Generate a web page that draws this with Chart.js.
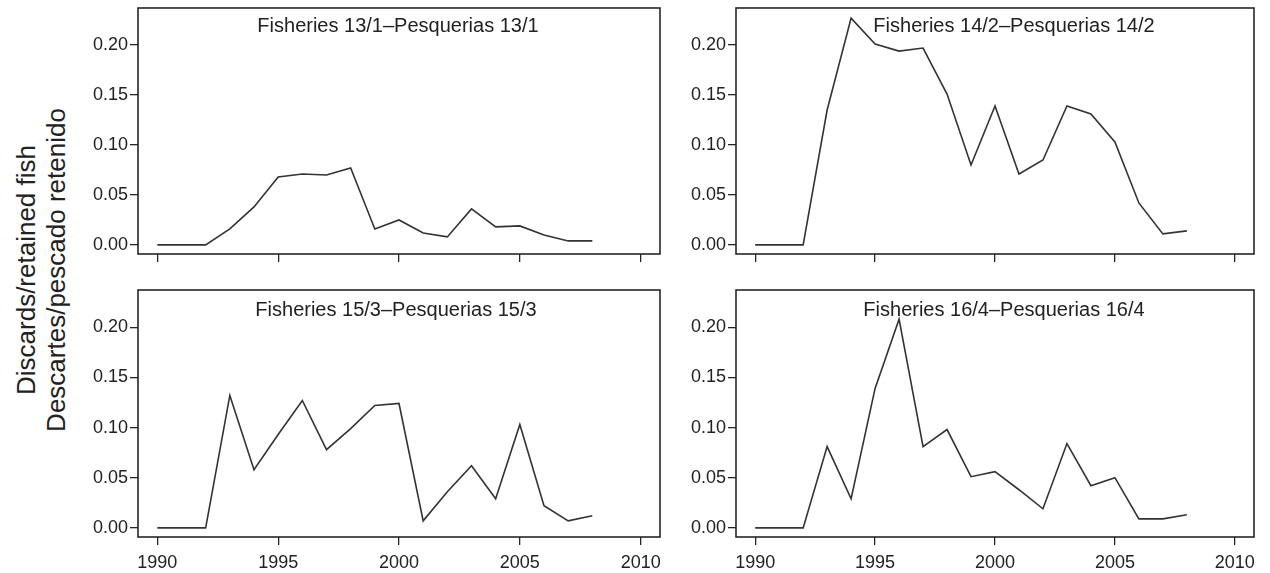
<!DOCTYPE html>
<html>
<head>
<meta charset="utf-8">
<script src="https://cdn.jsdelivr.net/npm/chart.js@4.4.1/dist/chart.umd.min.js"></script>
<style>
  html, body { margin: 0; padding: 0; background: #fff; }
  #wrap { position: relative; width: 1270px; height: 573px; overflow: hidden; font-family: "Liberation Sans", Arial, sans-serif; }
  canvas { position: absolute; }
  .ylab { position: absolute; left: 41px; top: 270px; width: 0; height: 0; }
  .ylab div { position: absolute; left: 0; top: 0; transform: translate(-50%, -50%) rotate(-90deg); white-space: nowrap;
              font-size: 26px; line-height: 30px; color: #222; text-align: center; }
</style>
</head>
<body>
<div id="wrap">
  <canvas id="c1" width="597" height="285" style="left:73px;top:0px"></canvas>
  <canvas id="c2" width="593" height="285" style="left:671px;top:0px"></canvas>
  <canvas id="c3" width="597" height="291" style="left:73px;top:282px"></canvas>
  <canvas id="c4" width="593" height="291" style="left:671px;top:282px"></canvas>
  <div class="ylab"><div>Discards/retained fish<br>Descartes/pescado retenido</div></div>
</div>
<script>
// years 1990..2008
var years = [1990, 1991, 1992, 1993, 1994, 1995, 1996, 1997, 1998, 1999,
             2000, 2001, 2002, 2003, 2004, 2005, 2006, 2007, 2008];

var fish13 = [0, 0, 0, 0.016, 0.038, 0.068, 0.071, 0.070, 0.077, 0.016,
              0.025, 0.012, 0.008, 0.036, 0.018, 0.019, 0.010, 0.004, 0.004];
var fish14 = [0, 0, 0, 0.135, 0.227, 0.201, 0.194, 0.197, 0.151, 0.080,
              0.139, 0.071, 0.085, 0.139, 0.131, 0.103, 0.042, 0.011, 0.014];
var fish15 = [0, 0, 0, 0.132, 0.058, 0.093, 0.127, 0.078, 0.099, 0.122,
              0.124, 0.007, 0.036, 0.062, 0.029, 0.103, 0.022, 0.007, 0.012];
var fish16 = [0, 0, 0, 0.081, 0.029, 0.139, 0.208, 0.081, 0.098, 0.051,
              0.056, 0.038, 0.019, 0.084, 0.042, 0.050, 0.009, 0.009, 0.013];

var titles = ['Fisheries 13/1\u2013Pesquerias 13/1', 'Fisheries 14/2\u2013Pesquerias 14/2',
              'Fisheries 15/3\u2013Pesquerias 15/3', 'Fisheries 16/4\u2013Pesquerias 16/4'];

var xTicks = [1990, 1995, 2000, 2005, 2010];
var yTicks = [0, 0.05, 0.10, 0.15, 0.20];

var FONT = '"Liberation Sans", Arial, sans-serif';
var INK = '#262626';

/* ---- box + inner title ---- */
var framePlugin = {
    id: 'frame',
    afterDraw: function(chart, args, opts) {
        var a = chart.chartArea, ctx = chart.ctx;
        ctx.save();
        ctx.strokeStyle = INK;
        ctx.lineWidth = 1.6;
        ctx.strokeRect(a.left, a.top, a.right - a.left, a.bottom - a.top);
        ctx.fillStyle = '#222';
        ctx.font = '20px ' + FONT;
        ctx.textAlign = 'center';
        ctx.textBaseline = 'middle';
        ctx.fillText(opts.text, (a.left + a.right) / 2 + opts.dx, a.top + opts.dy);
        ctx.restore();
    }
};

// R-like axes: no automatic label padding, fixed axis size
function fixSize(prop, size) {
    return function(s) {
        s[prop] = size;
        s.paddingTop = 0; s.paddingBottom = 0; s.paddingLeft = 0; s.paddingRight = 0;
    };
}

function makePanel(id, values, title, showX, xAxisH, titleDx, titleDy) {
    var pts = years.map(function(y, i) { return { x: y, y: values[i] }; });
    return new Chart(document.getElementById(id), {
        type: 'line',
        data: { datasets: [{ data: pts, borderColor: '#333', borderWidth: 1.6, pointRadius: 0, tension: 0, fill: false }] },
        plugins: [framePlugin],
        options: {
            responsive: false, animation: false,
            layout: { padding: { top: 8, right: 10, left: 0, bottom: 0 } },
            plugins: { legend: { display: false }, tooltip: { enabled: false },
                       frame: { text: title, dx: titleDx, dy: titleDy } },
            scales: {
                x: {
                    type: 'linear', min: 1989.2, max: 2010.8,
                    afterBuildTicks: function(s) { s.ticks = xTicks.map(function(v) { return { value: v }; }); },
                    afterFit: fixSize('height', xAxisH),
                    grid: { drawOnChartArea: false, drawTicks: true, tickLength: 8, color: INK, lineWidth: 1.3 },
                    border: { display: false },
                    ticks: { display: showX, color: '#222', font: { family: FONT, size: 18 }, padding: 7, maxRotation: 0,
                             callback: function(v) { return String(v); } }
                },
                y: {
                    min: -0.0091, max: 0.2371,
                    afterBuildTicks: function(s) { s.ticks = yTicks.map(function(v) { return { value: v }; }); },
                    afterFit: fixSize('width', 65),
                    grid: { drawOnChartArea: false, drawTicks: true, tickLength: 8, color: INK, lineWidth: 1.3 },
                    border: { display: false },
                    ticks: { color: '#222', font: { family: FONT, size: 18 }, padding: 2,
                             callback: function(v) { return v.toFixed(2); } }
                }
            }
        }
    });
}

makePanel('c1', fish13, titles[0], false, 31, -1, 18);
makePanel('c2', fish14, titles[1], false, 31, 19, 18);
makePanel('c3', fish15, titles[2], true, 36, -3, 20);
makePanel('c4', fish16, titles[3], true, 36, 9, 20);
</script>
</body>
</html>
